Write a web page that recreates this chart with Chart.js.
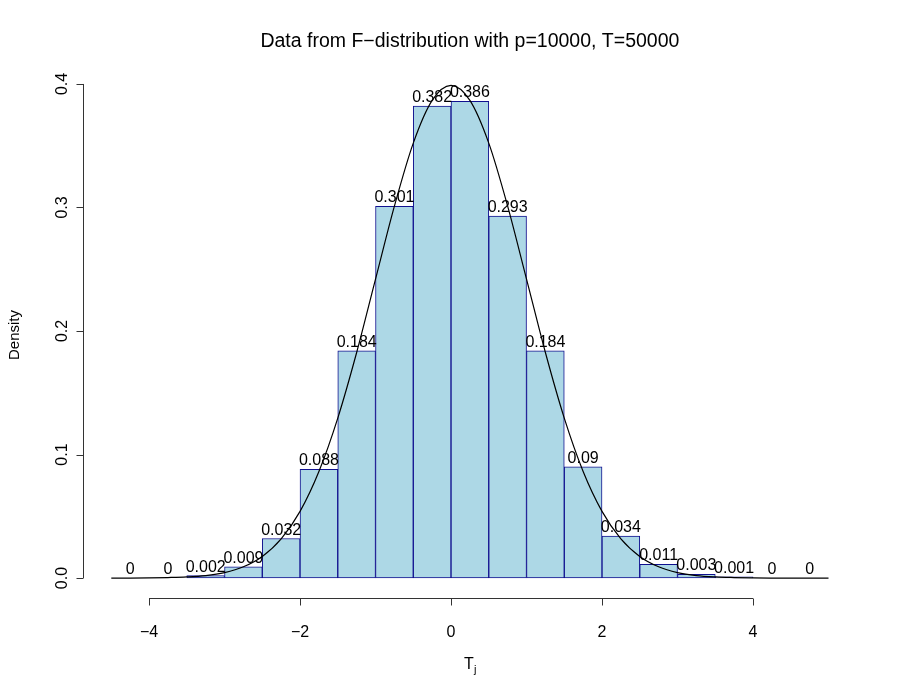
<!DOCTYPE html>
<html>
<head>
<meta charset="utf-8">
<script src="https://cdn.jsdelivr.net/npm/chart.js@4"></script>
<style>
  html, body { margin: 0; padding: 0; background: #fff; }
  #wrap { width: 900px; height: 700px; }
</style>
</head>
<body>
<div id="wrap"><canvas id="hist" width="900" height="700"></canvas></div>
<script>
// histogram bins (midpoints) and densities as labelled on the bars
const binMids = [-4.25, -3.75, -3.25, -2.75, -2.25, -1.75, -1.25, -0.75, -0.25, 0.25,
                 0.75, 1.25, 1.75, 2.25, 2.75, 3.25, 3.75, 4.25, 4.75];
const densities = [0, 0, 0.002, 0.009, 0.032, 0.088, 0.184, 0.301, 0.382, 0.386,
                   0.293, 0.184, 0.09, 0.034, 0.011, 0.003, 0.001, 0, 0];

// black reference curve
const curveX = [-4.5, -4.25, -4, -3.75, -3.5, -3.25, -3, -2.75, -2.5, -2.25, -2, -1.75, -1.5, -1.25,
                -1, -0.75, -0.5, -0.25, 0, 0.25, 0.5, 0.75, 1, 1.25, 1.5, 1.75, 2, 2.25, 2.5,
                2.75, 3, 3.25, 3.5, 3.75, 4, 4.25, 4.5, 4.75, 5];
const curveY = [0, 0, 0.0001, 0.0004, 0.0009, 0.002, 0.0044, 0.0091, 0.0175, 0.0317, 0.054, 0.0863,
                0.1295, 0.1826, 0.242, 0.3011, 0.3521, 0.3867, 0.3989, 0.3867, 0.3521, 0.3011,
                0.242, 0.1826, 0.1295, 0.0863, 0.054, 0.0317, 0.0175, 0.0091, 0.0044, 0.002,
                0.0009, 0.0004, 0.0001, 0, 0, 0, 0];

const xTicks = [-4, -2, 0, 2, 4];
const yTicks = [0, 0.1, 0.2, 0.3, 0.4];
const yTickLabels = ['0.0', '0.1', '0.2', '0.3', '0.4'];

const title = 'Data from F\u2212distribution with p=10000, T=50000';
const FONT = 'Liberation Sans, Arial, Helvetica, sans-serif';

// R style base graphics: detached axes, bar labels, titles
const rStyle = {
  id: 'rStyle',
  afterDatasetsDraw(chart) {
    const ctx = chart.ctx;
    const meta = chart.getDatasetMeta(1);
    ctx.save();
    ctx.fillStyle = '#000';
    ctx.font = '16px ' + FONT;
    ctx.textAlign = 'center';
    ctx.textBaseline = 'alphabetic';
    meta.data.forEach((bar, i) => {
      ctx.fillText(String(densities[i]), bar.x, bar.y - 4);
    });
    ctx.restore();
  },
  afterDraw(chart) {
    const ctx = chart.ctx;
    const xs = chart.scales.x, ys = chart.scales.y;
    const area = chart.chartArea;
    ctx.save();
    ctx.strokeStyle = '#333';
    ctx.lineWidth = 1;
    ctx.fillStyle = '#000';

    // x axis
    const xb = Math.round(area.bottom) + 0.5;
    ctx.beginPath();
    ctx.moveTo(xs.getPixelForValue(xTicks[0]), xb);
    ctx.lineTo(xs.getPixelForValue(xTicks[xTicks.length - 1]), xb);
    xTicks.forEach(t => {
      const px = Math.round(xs.getPixelForValue(t)) + 0.5;
      ctx.moveTo(px, xb);
      ctx.lineTo(px, xb + 7);
    });
    ctx.stroke();
    ctx.font = '16px ' + FONT;
    ctx.textAlign = 'center';
    ctx.textBaseline = 'alphabetic';
    xTicks.forEach(t => {
      const lab = t < 0 ? '\u2212' + Math.abs(t) : String(t);
      ctx.fillText(lab, xs.getPixelForValue(t), 637);
    });

    // y axis
    const yl = Math.round(area.left) + 0.5;
    ctx.beginPath();
    ctx.moveTo(yl, ys.getPixelForValue(yTicks[0]));
    ctx.lineTo(yl, ys.getPixelForValue(yTicks[yTicks.length - 1]));
    yTicks.forEach(t => {
      const py = Math.round(ys.getPixelForValue(t)) + 0.5;
      ctx.moveTo(yl, py);
      ctx.lineTo(yl - 7, py);
    });
    ctx.stroke();
    yTicks.forEach((t, i) => {
      ctx.save();
      ctx.translate(67, ys.getPixelForValue(t));
      ctx.rotate(-Math.PI / 2);
      ctx.fillText(yTickLabels[i], 0, 0);
      ctx.restore();
    });

    // axis titles
    ctx.save();
    ctx.translate(19, (area.top + area.bottom) / 2 + 4);
    ctx.rotate(-Math.PI / 2);
    ctx.font = '15px ' + FONT;
    ctx.fillText('Density', 0, 0);
    ctx.restore();

    const cx = (area.left + area.right) / 2;
    ctx.font = '16px ' + FONT;
    ctx.textAlign = 'left';
    ctx.fillText('T', cx - 6, 669);
    ctx.font = '11px ' + FONT;
    ctx.fillText('j', cx + 4, 673);

    // main title
    ctx.font = '19.5px ' + FONT;
    ctx.textAlign = 'center';
    ctx.fillText(title, cx, 47);
    ctx.restore();
  }
};

new Chart(document.getElementById('hist'), {
  data: {
    datasets: [
      {
        type: 'line',
        data: curveX.map((x, i) => ({ x: x, y: curveY[i] })),
        borderColor: '#000',
        borderWidth: 1.2,
        pointRadius: 0,
        cubicInterpolationMode: 'monotone',
        fill: false,
        order: 0
      },
      {
        type: 'bar',
        data: binMids.map((x, i) => ({ x: x, y: densities[i] })),
        backgroundColor: '#ADD8E6',
        borderColor: '#10108f',
        borderWidth: 1,
        borderSkipped: false,
        barPercentage: 1,
        categoryPercentage: 1,
        grouped: false,
        order: 1
      }
    ]
  },
  options: {
    responsive: false,
    animation: false,
    layout: { padding: { left: 82.6, right: 42.8, top: 64.2, bottom: 102.2 } },
    plugins: { legend: { display: false }, tooltip: { enabled: false } },
    scales: {
      x: { type: 'linear', min: -4.88, max: 5.38, offset: false, display: false },
      y: { type: 'linear', min: -0.016, max: 0.416, display: false }
    }
  },
  plugins: [rStyle]
});
</script>
</body>
</html>
